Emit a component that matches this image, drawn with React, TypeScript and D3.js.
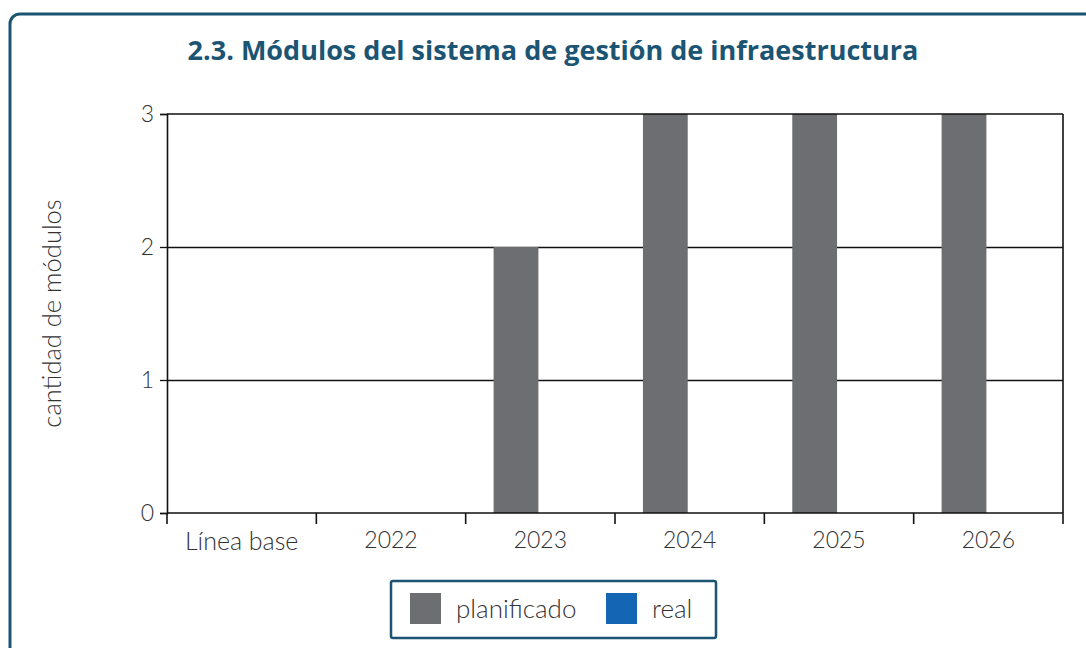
import * as d3 from 'd3';
import React, { useEffect, useRef } from 'react';

const categories = ['Línea base', '2022', '2023', '2024', '2025', '2026'];
const series = ['planificado', 'real'];
const planificado = [0, 0, 2, 3, 3, 3];
const real = [0, 0, 0, 0, 0, 0];
const yTicks = [0, 1, 2, 3];
const colors = ['#6d6e71', '#1565b5'];

const App: React.FC = () => {
  const ref = useRef<SVGSVGElement | null>(null);

  useEffect(() => {
    if (!ref.current) return;
    const root = d3.select(ref.current);
    root.selectAll('*').remove();

    const W = 1086;
    const H = 648;
    const margin = { top: 114, right: 23, bottom: 135, left: 167 };
    const width = W - margin.left - margin.right;
    const height = H - margin.top - margin.bottom;
    const font = "'Source Sans Pro', 'Open Sans', 'Noto Sans', sans-serif";
    const light = "'Source Sans Pro', Lato, 'Open Sans', sans-serif";
    const teal = '#1b5573';

    // marco exterior
    root
      .append('rect')
      .attr('x', 10)
      .attr('y', 14)
      .attr('width', 1200)
      .attr('height', 800)
      .attr('rx', 10)
      .attr('fill', 'white')
      .attr('stroke', teal)
      .attr('stroke-width', 3);

    // título
    root
      .append('text')
      .attr('x', 553)
      .attr('y', 60)
      .attr('text-anchor', 'middle')
      .attr('font-family', font)
      .attr('font-weight', 700)
      .attr('font-size', 27)
      .attr('fill', teal)
      .text('2.3. Módulos del sistema de gestión de infraestructura');

    const g = root
      .append('g')
      .attr('transform', `translate(${margin.left},${margin.top})`);

    const x0 = d3.scaleBand<string>().domain(categories).range([0, width]).padding(0);
    const x1 = d3
      .scaleBand<string>()
      .domain(series)
      .range([26, x0.bandwidth() - 26])
      .paddingInner(0.08)
      .paddingOuter(0.04);
    const y = d3.scaleLinear().domain([0, 3]).range([height, 0]);

    // líneas de cuadrícula
    g.selectAll('line.grid')
      .data(yTicks.filter((t) => t > 0 && t < 3))
      .enter()
      .append('line')
      .attr('x1', 0)
      .attr('x2', width)
      .attr('y1', (d) => Math.round(y(d)) + 0.5)
      .attr('y2', (d) => Math.round(y(d)) + 0.5)
      .attr('stroke', '#111')
      .attr('stroke-width', 1.3);

    // barras
    const data = categories.map((c, i) => ({ cat: c, vals: [planificado[i], real[i]] }));
    const groups = g
      .selectAll('g.grp')
      .data(data)
      .enter()
      .append('g')
      .attr('transform', (d) => `translate(${x0(d.cat)},0)`);
    groups
      .selectAll('rect')
      .data((d) => d.vals.map((v, j) => ({ key: series[j], v, j })))
      .enter()
      .append('rect')
      .attr('x', (d) => x1(d.key) as number)
      .attr('width', x1.bandwidth())
      .attr('y', (d) => y(d.v))
      .attr('height', (d) => height - y(d.v))
      .attr('fill', (d) => colors[d.j]);

    // marco superior y derecho
    g.append('line')
      .attr('x1', 0)
      .attr('x2', width)
      .attr('y1', 0)
      .attr('y2', 0)
      .attr('stroke', '#111')
      .attr('stroke-width', 1.6);
    g.append('line')
      .attr('x1', width)
      .attr('x2', width)
      .attr('y1', 0)
      .attr('y2', height)
      .attr('stroke', '#111')
      .attr('stroke-width', 1.6);

    // eje y
    const yAxis = g
      .append('g')
      .call(d3.axisLeft(y).tickValues(yTicks).tickFormat(d3.format('d')).tickSize(7).tickPadding(6));
    yAxis.select('.domain').attr('stroke', '#111').attr('stroke-width', 1.6);
    yAxis.selectAll('line').attr('stroke', '#111').attr('stroke-width', 1.3);
    yAxis
      .selectAll('text')
      .attr('font-family', light)
      .attr('font-weight', 300)
      .attr('font-size', 23)
      .attr('fill', '#333');

    // eje x
    const xAxis = g
      .append('g')
      .attr('transform', `translate(0,${height})`)
      .call(d3.axisBottom(x0).tickSize(0).tickPadding(19));
    xAxis.select('.domain').remove();
    xAxis
      .selectAll('text')
      .attr('font-family', light)
      .attr('font-weight', 300)
      .attr('font-size', (d) => (d === 'Línea base' ? 25 : 23))
      .attr('fill', '#333');
    g.append('line')
      .attr('x1', 0)
      .attr('x2', width)
      .attr('y1', height)
      .attr('y2', height)
      .attr('stroke', '#111')
      .attr('stroke-width', 1.6);
    g.selectAll('line.xtick')
      .data(categories.concat(['end']))
      .enter()
      .append('line')
      .attr('x1', (d, i) => i * x0.bandwidth())
      .attr('x2', (d, i) => i * x0.bandwidth())
      .attr('y1', height)
      .attr('y2', height + 11)
      .attr('stroke', '#111')
      .attr('stroke-width', 1.6);

    // etiqueta del eje y
    root
      .append('text')
      .attr('transform', `translate(61,${margin.top + height / 2}) rotate(-90)`)
      .attr('text-anchor', 'middle')
      .attr('font-family', light)
      .attr('font-weight', 300)
      .attr('font-size', 25.5)
      .attr('fill', '#333')
      .text('cantidad de módulos');

    // leyenda
    const leg = root.append('g').attr('transform', 'translate(391,581)');
    leg
      .append('rect')
      .attr('width', 325)
      .attr('height', 57)
      .attr('rx', 2)
      .attr('fill', 'white')
      .attr('stroke', teal)
      .attr('stroke-width', 2.5);
    const legX = [19, 215];
    series.forEach((s, i) => {
      leg
        .append('rect')
        .attr('x', legX[i])
        .attr('y', 12)
        .attr('width', 31)
        .attr('height', 31)
        .attr('fill', colors[i]);
      leg
        .append('text')
        .attr('x', legX[i] + 46)
        .attr('y', 37)
        .attr('font-family', light)
        .attr('font-weight', 300)
        .attr('font-size', 26)
        .attr('fill', '#333')
        .text(s);
    });
  }, []);

  return (
    <svg
      ref={ref}
      width={1086}
      height={648}
      style={{ position: 'absolute', left: 0, top: 0, display: 'block', background: 'white' }}
    />
  );
};

export default App;
